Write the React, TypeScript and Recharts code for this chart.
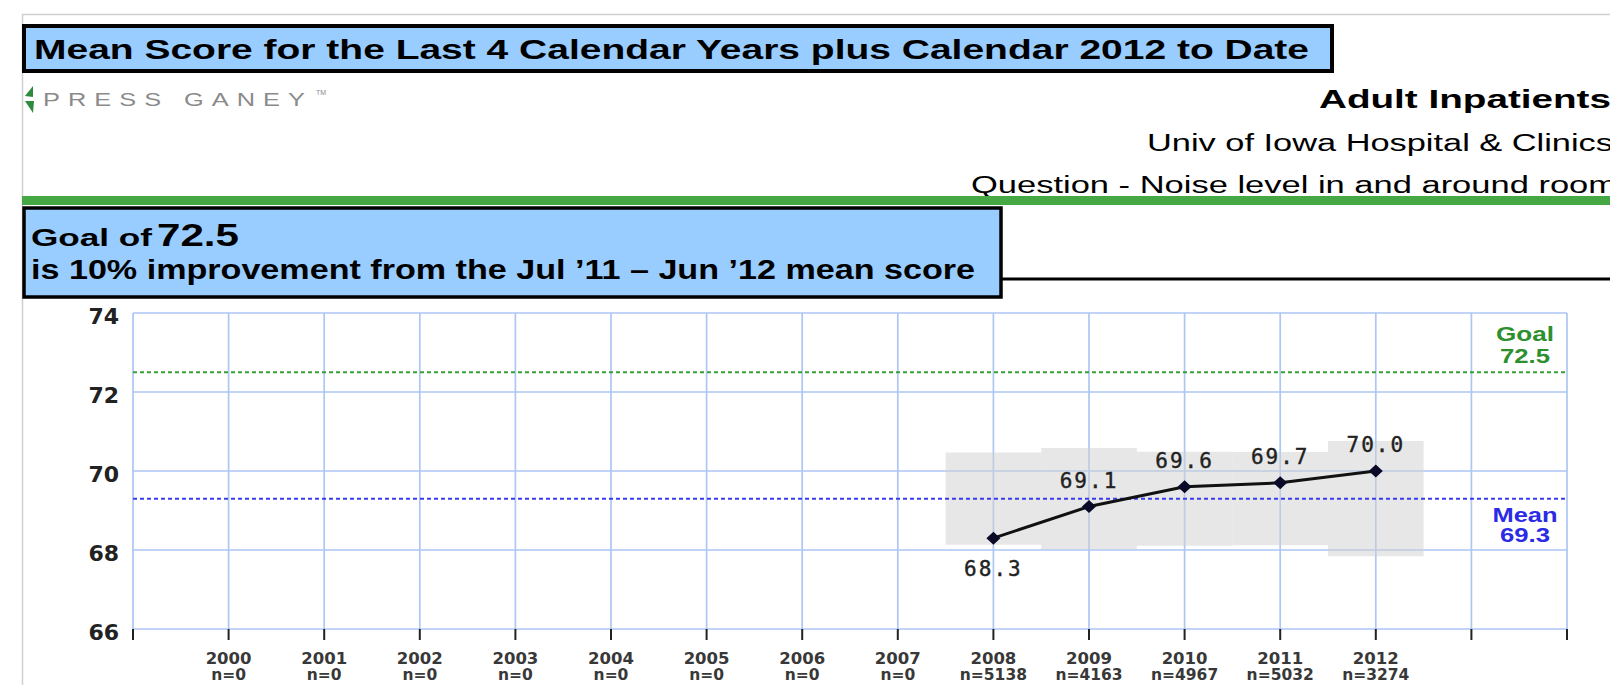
import React from 'react';
import {
  LineChart,
  Line,
  XAxis,
  YAxis,
  CartesianGrid,
  ReferenceLine,
  ReferenceArea,
  LabelList,
} from 'recharts';

// ---------- data ----------
const years = ['2000', '2001', '2002', '2003', '2004', '2005', '2006', '2007', '2008', '2009', '2010', '2011', '2012'];
const nCounts = ['n=0', 'n=0', 'n=0', 'n=0', 'n=0', 'n=0', 'n=0', 'n=0', 'n=5138', 'n=4163', 'n=4967', 'n=5032', 'n=3274'];
const scoreYears = ['2008', '2009', '2010', '2011', '2012'];
const scores = [68.3, 69.1, 69.6, 69.7, 70.0];
const bandLow = [68.13, 68.02, 68.11, 68.12, 67.84];
const bandHigh = [70.47, 70.58, 70.49, 70.48, 70.76];
const yTicks = [66, 68, 70, 72, 74];
const goalValue = 72.5;
const meanValue = 69.3;

const titleText = 'Mean Score for the Last 4 Calendar Years plus Calendar 2012 to Date';
const logoText = 'PRESS GANEY';
const unitText = 'Adult Inpatients';
const orgText = 'Univ of Iowa Hospital & Clinics';
const questionText = 'Question - Noise level in and around room';
const goalLine1 = 'Goal of ';
const goalLine2 = 'is 10% improvement from the Jul \u201911 \u2013 Jun \u201912 mean score';

const lineData = scoreYears.map((yr, i) => ({ x: years.indexOf(yr), score: scores[i] }));
const xTicks = [-1, ...years.map((_, i) => i), years.length, years.length + 1];

const SANS = '"Liberation Sans", Arial, sans-serif';
const DEJAVU = '"DejaVu Sans", sans-serif';

const XTick = (props: any) => {
  const { x, y, payload } = props;
  const i = payload.value;
  if (i < 0 || i >= years.length) return <g />;
  return (
    <g>
      <text x={x} y={y + 24} textAnchor="middle" fontFamily={DEJAVU} fontWeight="bold" fontSize={16.5} fill="#383838">
        {years[i]}
      </text>
      <text x={x} y={y + 40} textAnchor="middle" fontFamily={DEJAVU} fontWeight="bold" fontSize={15.5} fill="#383838">
        {nCounts[i]}
      </text>
    </g>
  );
};

const YTick = (props: any) => {
  const { x, y, payload } = props;
  return (
    <text x={x} y={y + 11} textAnchor="end" fontFamily={DEJAVU} fontWeight="bold" fontSize={22} fill="#222">
      {payload.value}
    </text>
  );
};

const Diamond = (props: any) => {
  const { cx, cy, index } = props;
  if (cx == null || cy == null) return <g key={index} />;
  return (
    <polygon
      key={index}
      points={`${cx},${cy - 6.5} ${cx + 7},${cy} ${cx},${cy + 6.5} ${cx - 7},${cy}`}
      fill="#0a0a28"
    />
  );
};

const ValueLabel = (props: any) => {
  const { x, y, value, index } = props;
  const below = index === 0;
  return (
    <text
      x={x}
      y={below ? y + 38 : y - 19}
      textAnchor="middle"
      fontFamily='"DejaVu Sans Mono", monospace'
      fontSize={21}
      letterSpacing={2}
      fill="#222"
      stroke="#222"
      strokeWidth={0.4}
    >
      {Number(value).toFixed(1)}
    </text>
  );
};

const makeRefLabel = (name: string, value: number, color: string, above: boolean) => (props: any) => {
  const vb = props.viewBox || {};
  const cx = vb.x + vb.width - 42;
  const y = vb.y;
  const y1 = above ? y - 31 : y + 23;
  const y2 = above ? y - 9 : y + 43;
  return (
    <g>
      <text x={cx} y={y1} textAnchor="middle" fontFamily={SANS} fontWeight="bold" fontSize={20} fill={color} textLength={name === 'Goal' ? 58 : 65} lengthAdjust="spacingAndGlyphs">
        {name}
      </text>
      <text x={cx} y={y2} textAnchor="middle" fontFamily={SANS} fontWeight="bold" fontSize={20} fill={color} textLength={50} lengthAdjust="spacingAndGlyphs">
        {value.toFixed(1)}
      </text>
    </g>
  );
};

const Header = () => (
  <svg width={1610} height={685} style={{ position: 'absolute', left: 0, top: 0 }}>
    {/* frame */}
    <line x1={22} y1={14.5} x2={1610} y2={14.5} stroke="#d0d0d0" strokeWidth={1.5} />
    <line x1={22.5} y1={14} x2={22.5} y2={685} stroke="#d0d0d0" strokeWidth={1.5} />

    {/* title box */}
    <rect x={24} y={26} width={1308} height={45} fill="#99ccff" stroke="#000" strokeWidth={4} />
    <text x={34} y={59} fontFamily={SANS} fontWeight="bold" fontSize={28} fill="#000" textLength={1275} lengthAdjust="spacingAndGlyphs">
      {titleText}
    </text>

    {/* logo */}
    <polygon points="33,86 25,96 33,97" fill="#2e8b3e" />
    <polygon points="25,101 34,101 33,113" fill="#2e8b3e" />
    <text x={43} y={106} fontFamily={SANS} fontSize={19} fill="#8a8a8a" textLength={270} lengthAdjust="spacingAndGlyphs" style={{ letterSpacing: '6px' }}>
      {logoText}
    </text>
    <text x={316} y={95} fontFamily={SANS} fontSize={7} fill="#8a8a8a">
      TM
    </text>

    {/* right header */}
    <text x={1319} y={108} fontFamily={SANS} fontWeight="bold" fontSize={25} fill="#000" textLength={292} lengthAdjust="spacingAndGlyphs">
      {unitText}
    </text>
    <text x={1147} y={151} fontFamily={SANS} fontSize={23} fill="#000" textLength={466} lengthAdjust="spacingAndGlyphs">
      {orgText}
    </text>
    <text x={971} y={193} fontFamily={SANS} fontSize={23} fill="#000" textLength={646} lengthAdjust="spacingAndGlyphs">
      {questionText}
    </text>

    {/* green bar */}
    <rect x={22} y={196} width={1588} height={9} fill="#45a845" />

    {/* goal box */}
    <line x1={1000} y1={279} x2={1610} y2={279} stroke="#000" strokeWidth={3} />
    <rect x={24} y={208} width={977} height={89} fill="#99ccff" stroke="#000" strokeWidth={3.5} />
    <text x={31} y={246} fontFamily={SANS} fontWeight="bold" fontSize={24} fill="#000" textLength={121} lengthAdjust="spacingAndGlyphs">
      {goalLine1}
    </text>
    <text x={157} y={246} fontFamily={SANS} fontWeight="bold" fontSize={32} fill="#000" textLength={82} lengthAdjust="spacingAndGlyphs">
      {goalValue.toFixed(1)}
    </text>
    <text x={31} y={279} fontFamily={SANS} fontWeight="bold" fontSize={27} fill="#000" textLength={944} lengthAdjust="spacingAndGlyphs">
      {goalLine2}
    </text>
  </svg>
);

export default function App() {
  return (
    <div style={{ position: 'absolute', left: 0, top: 0, width: 1610, height: 685, overflow: 'hidden', background: '#fff' }}>
      <Header />
      <div style={{ position: 'absolute', left: 0, top: 290 }}>
        <LineChart width={1610} height={395} data={lineData} margin={{ top: 23, right: 43, bottom: 0, left: 0 }}>
          <CartesianGrid stroke="#adc6f4" strokeWidth={1.7} />
          <XAxis
            dataKey="x"
            type="number"
            domain={[-1, years.length + 1]}
            ticks={xTicks}
            interval={0}
            axisLine={false}
            tickLine={{ stroke: '#222', strokeWidth: 2 }}
            tickSize={11}
            tickMargin={0}
            height={56}
            tick={<XTick />}
          />
          <YAxis
            type="number"
            domain={[66, 74]}
            ticks={yTicks}
            interval={0}
            axisLine={false}
            tickLine={false}
            tickSize={0}
            tickMargin={14}
            width={133}
            tick={<YTick />}
          />
          {scoreYears.map((yr, i) => {
            const idx = years.indexOf(yr);
            return (
              <ReferenceArea
                key={yr}
                x1={idx - 0.5}
                x2={idx + 0.5}
                y1={bandLow[i]}
                y2={bandHigh[i]}
                fill="#cfcfcf"
                fillOpacity={0.5}
                stroke="none"
                ifOverflow="visible"
              />
            );
          })}
          <ReferenceLine
            y={goalValue}
            stroke="#37a037"
            strokeWidth={2}
            strokeDasharray="4 3"
            label={makeRefLabel('Goal', goalValue, '#2e8f2e', true)}
          />
          <ReferenceLine
            y={meanValue}
            stroke="#3a3af0"
            strokeWidth={2}
            strokeDasharray="4 3"
            label={makeRefLabel('Mean', meanValue, '#2b2be6', false)}
          />
          <Line
            type="linear"
            dataKey="score"
            stroke="#111"
            strokeWidth={3}
            dot={Diamond}
            activeDot={false}
            isAnimationActive={false}
          >
            <LabelList dataKey="score" content={ValueLabel} />
          </Line>
        </LineChart>
      </div>
    </div>
  );
}
